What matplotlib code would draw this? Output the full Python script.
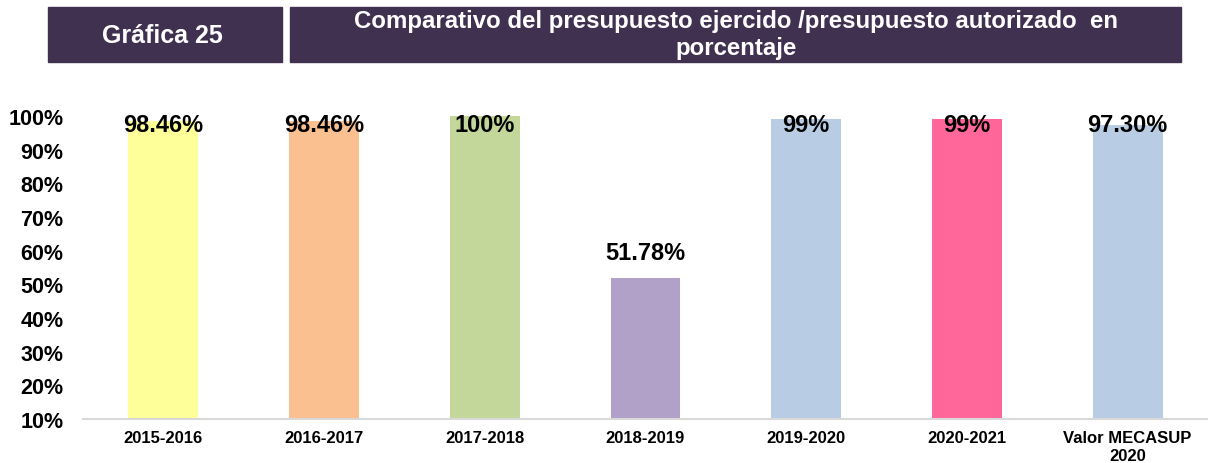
import matplotlib
matplotlib.use("Agg")
import matplotlib.pyplot as plt
from matplotlib.patches import Rectangle
from matplotlib.ticker import FuncFormatter

plt.rcParams['font.family'] = ['Liberation Sans', 'DejaVu Sans']
plt.rcParams['font.weight'] = 'bold'

# datos de la grafica
periodos = ["2015-2016", "2016-2017", "2017-2018", "2018-2019",
            "2019-2020", "2020-2021", "Valor MECASUP\n2020"]
porcentajes = [98.46, 98.46, 100, 51.78, 99, 99, 97.30]
etiquetas = ["98.46%", "98.46%", "100%", "51.78%", "99%", "99%", "97.30%"]
colores = ["#FFFF99", "#FAC090", "#C4D79B", "#B1A0C7",
           "#B8CCE4", "#FF6699", "#B8CCE4"]
header_color = "#413151"

W, H = 1208, 464
fig = plt.figure(figsize=(W / 100, H / 100), dpi=100)

# encabezados
fig.patches.append(Rectangle((48 / W, 1 - 63 / H), 234 / W, 55 / H,
                             transform=fig.transFigure, color=header_color))
fig.patches.append(Rectangle((290 / W, 1 - 63 / H), 891 / W, 55 / H,
                             transform=fig.transFigure, color=header_color))
fig.text(162 / W, 1 - 36 / H, "Gráfica 25", color="white", fontsize=18,
         fontweight="bold", ha="center", va="center")
fig.text(736 / W, 1 - 35 / H,
         "Comparativo del presupuesto ejercido /presupuesto autorizado  en\nporcentaje",
         color="white", fontsize=17.3, fontweight="bold", ha="center", va="center",
         linespacing=1.2)

ax = fig.add_axes([83 / W, 44 / H, 1 - 83 / W, 303 / H])
x = list(range(len(periodos)))
base = 10
ax.bar(x, [v - base for v in porcentajes], bottom=base, width=0.435, color=colores)

for xi, v, t in zip(x, porcentajes, etiquetas):
    ax.text(xi, min(v + 7.8, 97.5), t, ha="center", va="center",
            fontsize=17, fontweight="bold", color="black")

ax.set_xlim(-0.5, 6.5)
ax.set_ylim(10, 100)
ax.set_yticks(range(10, 101, 10))
ax.yaxis.set_major_formatter(FuncFormatter(lambda v, p: f"{int(v)}%"))
ax.set_xticks(x)
ax.set_xticklabels(periodos, fontsize=12, fontweight="bold", linespacing=1.2)
ax.tick_params(axis="y", length=0, pad=14, labelsize=15.5)
ax.tick_params(axis="x", length=0, pad=8)
for lab in ax.get_yticklabels():
    lab.set_fontweight("bold")

for s in ["top", "right", "left"]:
    ax.spines[s].set_visible(False)
ax.spines["bottom"].set_color("#D9D9D9")
ax.spines["bottom"].set_linewidth(1.5)

fig.savefig("out.png", dpi=100)
